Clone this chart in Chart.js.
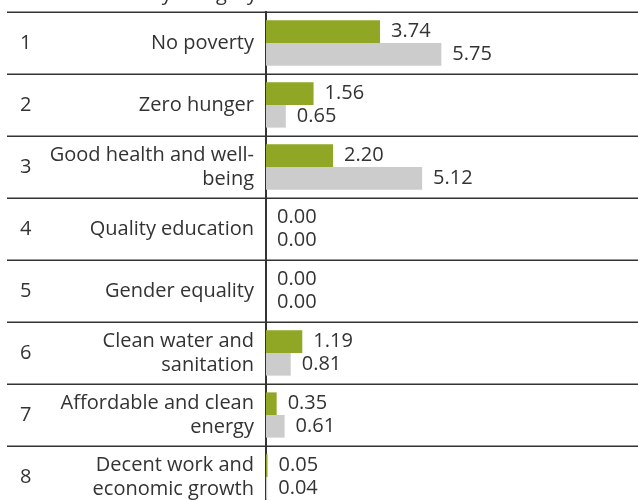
<!DOCTYPE html>
<html>
<head>
<meta charset="utf-8">
<script src="https://cdn.jsdelivr.net/npm/chart.js@4"></script>
<style>
  html, body { margin: 0; padding: 0; background: #fff; overflow: hidden; }
  #wrap { position: relative; width: 638px; height: 512px; }
</style>
</head>
<body>
<div id="wrap"><canvas id="bars"></canvas></div>
<script>
  /* data */
  var rankNumbers = ["1", "2", "3", "4", "5", "6", "7", "8"];
  var categories = [
    "No poverty",
    "Zero hunger",
    ["Good health and well-", "being"],
    "Quality education",
    "Gender equality",
    ["Clean water and", "sanitation"],
    ["Affordable and clean", "energy"],
    ["Decent work and", "economic growth"]
  ];
  var seriesGreen = [3.74, 1.56, 2.20, 0.00, 0.00, 1.19, 0.35, 0.05];
  var seriesGrey = [5.75, 0.65, 5.12, 0.00, 0.00, 0.81, 0.61, 0.04];

  var textColor = "#333333";
  var lineColor = "#333333";
  var fontFamily = "'Open Sans', 'Noto Sans', sans-serif";
  var fontWeight = "400";

  /* numbers, row lines, value labels and the clipped title */
  const tablePlugin = {
    id: "tableLines",
    afterDatasetsDraw(chart) {
      const ctx = chart.ctx;
      const y = chart.scales.y;
      const area = chart.chartArea;
      const n = chart.data.labels.length;
      const rowH = (area.bottom - area.top) / n;

      ctx.save();
      // horizontal rules between rows
      ctx.strokeStyle = lineColor;
      ctx.lineWidth = 1.5;
      for (let i = 0; i <= n; i++) {
        const py = Math.round(y.getPixelForValue(i) - rowH / 2) + 0.25;
        ctx.beginPath();
        ctx.moveTo(7, py);
        ctx.lineTo(chart.width, py);
        ctx.stroke();
      }

      // row numbers
      ctx.fillStyle = textColor;
      ctx.font = fontWeight + " 20px " + fontFamily;
      ctx.textAlign = "left";
      ctx.textBaseline = "middle";
      rankNumbers.forEach((num, i) => {
        ctx.fillText(num, 20, y.getPixelForValue(i));
      });

      // value labels
      chart.data.datasets.forEach((ds, di) => {
        const meta = chart.getDatasetMeta(di);
        meta.data.forEach((bar, i) => {
          ctx.fillText(ds.data[i].toFixed(2), bar.x + 11, bar.y);
        });
      });

      // title, cut off by the top edge
      ctx.textAlign = "right";
      ctx.textBaseline = "alphabetic";
      ctx.fillText("Investment by category", 257, 0);
      ctx.restore();
    }
  };

  new Chart("bars", {
    type: "bar",
    data: {
      labels: categories,
      datasets: [
        {
          label: "Green",
          data: seriesGreen,
          backgroundColor: "#8fa725",
          barPercentage: 1,
          categoryPercentage: 0.73
        },
        {
          label: "Grey",
          data: seriesGrey,
          backgroundColor: "#cccccc",
          barPercentage: 1,
          categoryPercentage: 0.73
        }
      ]
    },
    options: {
      indexAxis: "y",
      responsive: true,
      maintainAspectRatio: false,
      animation: false,
      layout: { padding: { top: 12, right: 0, bottom: 4, left: 0 } },
      plugins: {
        legend: { display: false },
        tooltip: { enabled: false }
      },
      scales: {
        x: {
          display: false,
          min: 0,
          max: 12.2
        },
        y: {
          grid: { display: false, drawTicks: false },
          border: { display: true, color: lineColor, width: 2 },
          afterFit(scale) {
            scale.width = 266;
            scale.paddingTop = 0;
            scale.paddingBottom = 0;
          },
          ticks: {
            color: textColor,
            padding: 12,
            font: { family: fontFamily, size: 20, weight: fontWeight, lineHeight: 1.2 }
          }
        }
      }
    },
    plugins: [tablePlugin]
  });
</script>
</body>
</html>
